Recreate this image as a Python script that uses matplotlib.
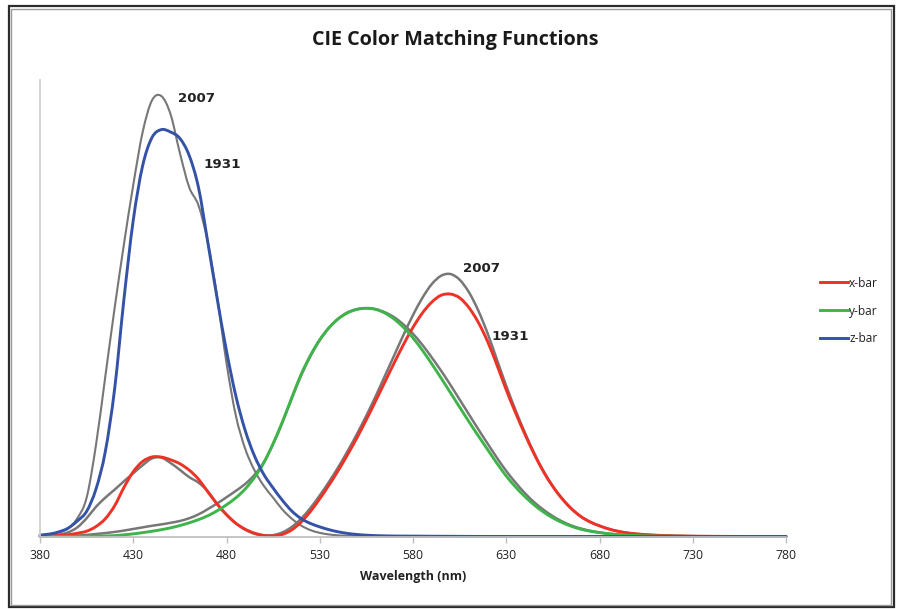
import numpy as np
import matplotlib
matplotlib.use("Agg")
import matplotlib.pyplot as plt
from matplotlib.patches import Rectangle, PathPatch
from matplotlib.path import Path
from matplotlib.lines import Line2D

# Wavelength grid (nm), 5 nm steps
wavelength = np.arange(380, 781, 5)

# CIE 1931 2-degree colour matching functions
xbar_1931 = [
    0.001368, 0.002236, 0.004243, 0.00765, 0.01431, 0.02319, 0.04351, 0.07763, 0.13438, 0.21477,
    0.2839, 0.3285, 0.34828, 0.34806, 0.3362, 0.3187, 0.2908, 0.2511, 0.19536, 0.1421,
    0.09564, 0.05795, 0.03201, 0.0147, 0.0049, 0.0024, 0.0093, 0.0291, 0.06327, 0.1096,
    0.1655, 0.22575, 0.2904, 0.3597, 0.43345, 0.51205, 0.5945, 0.6784, 0.7621, 0.8425,
    0.9163, 0.9786, 1.0263, 1.0567, 1.0622, 1.0456, 1.0026, 0.9384, 0.85445, 0.7514,
    0.6424, 0.5419, 0.4479, 0.3608, 0.2835, 0.2187, 0.1649, 0.1212, 0.0874, 0.0636,
    0.04677, 0.0329, 0.0227, 0.01584, 0.011359, 0.008111, 0.00579, 0.004109, 0.002899, 0.002049,
    0.00144, 0.000999, 0.00069, 0.000476, 0.000332, 0.000235, 0.000166, 0.000117, 0.000083, 0.000059,
    0.000042,
]
ybar_1931 = [
    0.000039, 0.000064, 0.00012, 0.000217, 0.000396, 0.00064, 0.00121, 0.00218, 0.004, 0.0073,
    0.0116, 0.01684, 0.023, 0.0298, 0.038, 0.048, 0.06, 0.0739, 0.09098, 0.1126,
    0.13902, 0.1693, 0.20802, 0.2586, 0.323, 0.4073, 0.503, 0.6082, 0.71, 0.7932,
    0.862, 0.91485, 0.954, 0.9803, 0.99495, 1.0, 0.995, 0.9786, 0.952, 0.9154,
    0.87, 0.8163, 0.757, 0.6949, 0.631, 0.5668, 0.503, 0.4412, 0.381, 0.321,
    0.265, 0.217, 0.175, 0.1382, 0.107, 0.0816, 0.061, 0.04458, 0.032, 0.0232,
    0.017, 0.01192, 0.00821, 0.005723, 0.004102, 0.002929, 0.002091, 0.001484, 0.001047, 0.00074,
    0.00052, 0.000361, 0.000249, 0.000172, 0.00012, 0.0000848, 0.00006, 0.0000424, 0.00003, 0.0000212,
    0.000015,
]
zbar_1931 = [
    0.00645, 0.01055, 0.02005, 0.03621, 0.06785, 0.1102, 0.2074, 0.3713, 0.6456, 1.0391,
    1.3856, 1.623, 1.74706, 1.7826, 1.77211, 1.7441, 1.6692, 1.5281, 1.28764, 1.0419,
    0.81295, 0.6162, 0.46518, 0.3533, 0.272, 0.2123, 0.1582, 0.1117, 0.07825, 0.05725,
    0.04216, 0.02984, 0.0203, 0.0134, 0.00875, 0.00575, 0.0039, 0.00275, 0.0021, 0.0018,
    0.00165, 0.0014, 0.0011, 0.001, 0.0008, 0.0006, 0.00034, 0.00024, 0.00019, 0.0001,
    0.00005, 0.00003, 0.00002, 0.00001, 0, 0, 0, 0, 0, 0,
    0, 0, 0, 0, 0, 0, 0, 0, 0, 0,
    0, 0, 0, 0, 0, 0, 0, 0, 0, 0,
    0,
]

# 2007 (cone-fundamental based) colour matching functions
xbar_2007 = [
    0.002, 0.004, 0.008, 0.018, 0.04, 0.08, 0.13, 0.17, 0.205, 0.242,
    0.277, 0.312, 0.342, 0.346, 0.322, 0.292, 0.26, 0.236, 0.198, 0.142,
    0.096, 0.058, 0.03, 0.012, 0.005, 0.006, 0.018, 0.042, 0.078, 0.125,
    0.18, 0.24, 0.305, 0.375, 0.45, 0.53, 0.615, 0.705, 0.795, 0.885,
    0.97, 1.045, 1.105, 1.142, 1.15, 1.125, 1.07, 0.99, 0.89, 0.775,
    0.66, 0.553, 0.455, 0.365, 0.286, 0.22, 0.166, 0.122, 0.088, 0.064,
    0.047, 0.033, 0.023, 0.016, 0.011, 0.008, 0.0056, 0.004, 0.0028, 0.002,
    0.0014, 0.001, 0.0007, 0.0005, 0.0003, 0.0002, 0.00015, 0.0001, 0.00007, 0.00005,
    0.00003,
]
ybar_2007 = [
    0.0002, 0.0004, 0.001, 0.002, 0.004, 0.007, 0.011, 0.015, 0.020, 0.026,
    0.033, 0.040, 0.047, 0.053, 0.060, 0.068, 0.080, 0.097, 0.120, 0.145,
    0.172, 0.200, 0.230, 0.270, 0.325, 0.405, 0.500, 0.605, 0.705, 0.790,
    0.860, 0.915, 0.955, 0.982, 0.996, 1.000, 0.996, 0.982, 0.960, 0.928,
    0.888, 0.840, 0.785, 0.727, 0.665, 0.600, 0.535, 0.470, 0.407, 0.345,
    0.287, 0.236, 0.190, 0.150, 0.117, 0.089, 0.066, 0.048, 0.035, 0.025,
    0.018, 0.0125, 0.0087, 0.006, 0.0043, 0.003, 0.0021, 0.0015, 0.001, 0.0007,
    0.0005, 0.00035, 0.00025, 0.00017, 0.00012, 0.00008, 0.00006, 0.00004, 0.00003, 0.00002,
    0.00001,
]
zbar_2007 = [
    0.005, 0.010, 0.018, 0.035, 0.080, 0.170, 0.400, 0.700, 1.000, 1.280,
    1.540, 1.770, 1.910, 1.930, 1.850, 1.680, 1.530, 1.450, 1.290, 1.050,
    0.760, 0.530, 0.385, 0.290, 0.222, 0.170, 0.118, 0.078, 0.048, 0.028,
    0.016, 0.009, 0.005, 0.003, 0.002, 0.001, 0.0005, 0, 0, 0,
    0, 0, 0, 0, 0, 0, 0, 0, 0, 0,
    0, 0, 0, 0, 0, 0, 0, 0, 0, 0,
    0, 0, 0, 0, 0, 0, 0, 0, 0, 0,
    0, 0, 0, 0, 0, 0, 0, 0, 0, 0,
    0,
]

x_ticks = [380, 430, 480, 530, 580, 630, 680, 730, 780]
series_labels = ["x-bar", "y-bar", "z-bar"]
year_labels = ["2007", "1931", "2007", "1931"]

RED = "#ee3226"
GREEN = "#3fb44b"
BLUE = "#3452a6"
GRAY = "#777777"
FONT = "Open Sans"


def smooth_path(xs, ys):
    """Smoothed (Catmull-Rom style) Bezier path through the data points."""
    pts = np.column_stack([np.asarray(xs, float), np.asarray(ys, float)])
    n = len(pts)
    verts = [pts[0]]
    codes = [Path.MOVETO]
    for i in range(n - 1):
        p0 = pts[i - 1] if i > 0 else pts[i]
        p1 = pts[i]
        p2 = pts[i + 1]
        p3 = pts[i + 2] if i + 2 < n else pts[i + 1]
        c1 = p1 + (p2 - p0) / 6.0
        c2 = p2 - (p3 - p1) / 6.0
        verts += [c1, c2, p2]
        codes += [Path.CURVE4] * 3
    return Path(verts, codes)


def draw_curve(ax, xs, ys, color, lw):
    patch = PathPatch(smooth_path(xs, ys), fill=False, edgecolor=color, lw=lw,
                      capstyle="round", joinstyle="round", clip_on=False)
    ax.add_patch(patch)
    return patch


W, H = 897, 609
fig = plt.figure(figsize=(W / 100, H / 100), dpi=100)
fig.patch.set_facecolor("white")

# outer frame
fig.add_artist(Rectangle((8.5 / W, 1 - 607 / H), (893.5 - 8.5) / W, (607 - 5.5) / H,
                         transform=fig.transFigure, fill=False, edgecolor="#2b2b2b", lw=1.6))
fig.add_artist(Rectangle((11 / W, 1 - 604.5 / H), (891 - 11) / W, (604.5 - 8.5) / H,
                         transform=fig.transFigure, fill=False, edgecolor="#9a9a9a", lw=1.0))

ax = fig.add_axes([40 / W, 1 - 536.5 / H, (786 - 40) / W, (536.5 - 80) / H])

draw_curve(ax, wavelength, zbar_2007, GRAY, 1.5)
draw_curve(ax, wavelength, xbar_2007, GRAY, 1.8)
draw_curve(ax, wavelength, ybar_2007, GRAY, 1.8)

draw_curve(ax, wavelength, xbar_1931, RED, 2.1)
draw_curve(ax, wavelength, ybar_1931, GREEN, 2.1)
draw_curve(ax, wavelength, zbar_1931, BLUE, 2.1)

ax.set_xlim(380, 780)
ax.set_ylim(0, 2.0)
ax.set_xticks(x_ticks)
ax.set_xticklabels([str(t) for t in x_ticks], fontfamily=FONT, fontsize=8.8, color="#222222")
ax.set_yticks([])
for s in ("top", "right"):
    ax.spines[s].set_visible(False)
ax.spines["left"].set_color("#d0d0d0")
ax.spines["left"].set_linewidth(1.3)
ax.spines["bottom"].set_color("#c0c0c0")
ax.spines["bottom"].set_linewidth(1.3)
ax.tick_params(axis="x", length=4, width=1.0, color="#c0c0c0", pad=5)

ax.set_xlabel("Wavelength (nm)", fontfamily=FONT, fontweight="bold", fontsize=9.0,
              color="#222222", labelpad=6)

fig.text(455 / W, 1 - 40 / H, "CIE Color Matching Functions", ha="center", va="center",
         fontfamily=FONT, fontweight="bold", fontsize=14.2, color="#1a1a1a")

# year annotations next to the curves
year_pos = [(454, 1.92), (467.5, 1.63), (607, 1.175), (622, 0.877)]
for txt, (xx, yy) in zip(year_labels, year_pos):
    ax.text(xx, yy, txt, ha="left", va="center", fontfamily="DejaVu Sans",
            fontweight="bold", fontsize=9.6, color="#222222")

handles = [Line2D([], [], color=c, lw=2.1) for c in (RED, GREEN, BLUE)]
leg = fig.legend(handles=handles, labels=series_labels, loc="center left",
                 bbox_to_anchor=(820 / W, 1 - 311 / H), bbox_transform=fig.transFigure,
                 frameon=False, prop={"family": FONT, "size": 8.6},
                 handlelength=2.35, handletextpad=0.1, labelspacing=1.25, borderpad=0,
                 borderaxespad=0)
for t in leg.get_texts():
    t.set_color("#222222")

fig.savefig("out.png", dpi=100, facecolor="white")
